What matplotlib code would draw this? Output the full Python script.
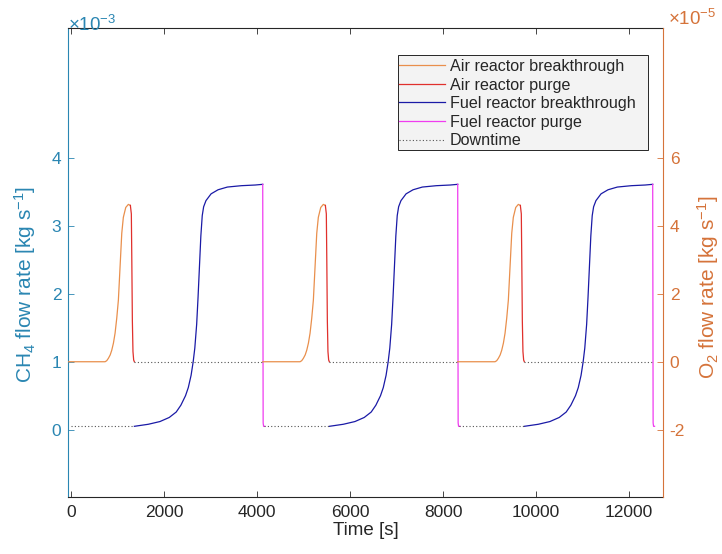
import matplotlib
matplotlib.use('Agg')
import matplotlib.pyplot as plt
from matplotlib.lines import Line2D
from matplotlib.patches import Rectangle

plt.rcParams['font.family'] = ['Liberation Sans', 'DejaVu Sans']
plt.rcParams['mathtext.fontset'] = 'custom'
plt.rcParams['mathtext.rm'] = 'Liberation Sans'
plt.rcParams['mathtext.it'] = 'Liberation Sans:italic'
plt.rcParams['mathtext.bf'] = 'Liberation Sans:bold'

# ---------------- data ----------------
# O2 flow rate, units of 1e-5 kg/s (right axis)
air_bt_t = [
    [-60, 731, 766, 802, 841, 875, 911, 946, 982, 1017, 1053, 1090, 1124, 1176, 1232, 1275],
    [4122, 4925, 4960, 4996, 5035, 5069, 5105, 5140, 5176, 5211, 5247, 5284, 5318, 5370, 5426, 5469],
    [8316, 9119, 9154, 9190, 9229, 9263, 9299, 9334, 9370, 9405, 9441, 9478, 9512, 9564, 9620, 9663],
]
air_bt_v = [0, 0, 0.03, 0.1, 0.2, 0.34, 0.55, 0.84, 1.28, 1.81, 2.78, 3.78, 4.25, 4.54, 4.63, 4.60]

air_pg_t = [
    [1275, 1296, 1306, 1318, 1331, 1346, 1361],
    [5469, 5490, 5500, 5512, 5525, 5540, 5555],
    [9663, 9684, 9694, 9706, 9719, 9734, 9749],
]
air_pg_v = [4.60, 4.35, 3.0, 1.2, 0.3, 0.05, 0.0]

# CH4 flow rate, units of 1e-3 kg/s (left axis)
fuel_bt_t = [
    [1361, 1661, 1911, 2111, 2261, 2361, 2461, 2521, 2581, 2626, 2661, 2701, 2731,
     2761, 2791, 2821, 2851, 2901, 3011, 3161, 3361, 3661, 3961, 4122],
    [5555, 5855, 6105, 6305, 6455, 6555, 6655, 6715, 6775, 6820, 6855, 6895, 6925,
     6955, 6985, 7015, 7045, 7095, 7205, 7355, 7555, 7855, 8155, 8316],
    [9749, 10049, 10299, 10499, 10649, 10749, 10849, 10909, 10969, 11014, 11049, 11089, 11119,
     11149, 11179, 11209, 11239, 11289, 11399, 11549, 11749, 12049, 12349, 12510],
]
fuel_bt_v = [0.05, 0.08, 0.12, 0.18, 0.26, 0.36, 0.5, 0.62, 0.8, 1.0, 1.2, 1.55, 1.95,
             2.4, 2.85, 3.15, 3.28, 3.37, 3.47, 3.53, 3.57, 3.59, 3.60, 3.61]

fuel_pg_t = [
    [4122, 4131, 4141, 4170],
    [8316, 8325, 8335, 8364],
    [12510, 12519, 12529, 12550],
]
fuel_pg_v = [3.61, 0.1, 0.05, 0.05]

# Downtime: CH4 idle level (left) and O2 idle level (right)
down_ch4_t = [[0, 1361], [4141, 5555], [8335, 9749]]
down_ch4_v = 0.05
down_o2_t = [[1361, 4122], [5555, 8316], [9749, 12510]]
down_o2_v = 0.0

x_ticks = [0, 2000, 4000, 6000, 8000, 10000, 12000]
left_ticks = [0, 1, 2, 3, 4]
right_ticks = [-2, 0, 2, 4, 6]

labels = ['Air reactor breakthrough', 'Air reactor purge',
          'Fuel reactor breakthrough', 'Fuel reactor purge', 'Downtime']

# ---------------- styles ----------------
c_orange = '#E98F4C'
c_red = '#E0302C'
c_blue = '#1A1AA6'
c_mag = '#F03CF0'
c_down = '#555555'
c_left = '#2A86B2'
c_right = '#D5733A'
c_dark = '#262626'
lw = 0.9
dot = (0, (1, 2))

W, H = 722, 554
fig = plt.figure(figsize=(W / 100, H / 100), dpi=100)


def px(x0, y0, x1, y1):
    return [x0 / W, 1 - y1 / H, (x1 - x0) / W, (y1 - y0) / H]


ax = fig.add_axes(px(68.3, 28, 662.7, 497))
ax2 = ax.twinx()

for t in fuel_bt_t:
    ax.plot(t, fuel_bt_v, color=c_blue, lw=lw)
for t in fuel_pg_t:
    ax.plot(t, fuel_pg_v, color=c_mag, lw=lw)
for t in down_ch4_t:
    ax.plot(t, [down_ch4_v] * len(t), color=c_down, lw=0.8, ls=dot)

for t in air_bt_t:
    ax2.plot(t, air_bt_v, color=c_orange, lw=lw)
for t in air_pg_t:
    ax2.plot(t, air_pg_v, color=c_red, lw=lw)
for t in down_o2_t:
    ax2.plot(t, [down_o2_v] * len(t), color=c_down, lw=0.8, ls=dot)

ax.set_xlim(-60, 12725)
ax.set_ylim(-0.99, 5.91)
ax2.set_ylim(-3.98, 9.82)

ax.set_xticks(x_ticks)
ax.set_xticklabels([str(v) for v in x_ticks])
ax.set_yticks(left_ticks)
ax.set_yticklabels([str(v) for v in left_ticks])
ax2.set_yticks(right_ticks)
ax2.set_yticklabels([str(v) for v in right_ticks])

ax.tick_params(axis='x', direction='in', length=4, width=0.6, colors=c_dark,
               labelsize=12.5, top=True, pad=6)
ax.tick_params(axis='y', direction='in', length=4, width=0.6, colors=c_left,
               labelsize=12.5, pad=5)
ax2.tick_params(axis='y', direction='in', length=4, width=0.6, colors=c_right,
                labelsize=12.5, pad=5)

for a in (ax, ax2):
    for s in a.spines.values():
        s.set_linewidth(0.8)
ax.spines['bottom'].set_color(c_dark)
ax.spines['top'].set_color(c_dark)
ax.spines['left'].set_color(c_left)
ax.spines['right'].set_visible(False)
ax2.spines['left'].set_visible(False)
ax2.spines['top'].set_visible(False)
ax2.spines['bottom'].set_visible(False)
ax2.spines['right'].set_color(c_right)

ax.set_xlabel('Time [s]', fontsize=13.5, color=c_dark, labelpad=1)

fig.text(25 / W, 1 - 284 / H, r'CH$_{\mathregular{4}}$ flow rate [kg s$^{\mathregular{-1}}$]',
         rotation=90, ha='center', va='center', fontsize=15, color=c_left)
fig.text(708 / W, 1 - 287 / H, r'O$_{\mathregular{2}}$ flow rate [kg s$^{\mathregular{-1}}$]',
         rotation=90, ha='center', va='center', fontsize=15, color=c_right)

fig.text(68 / W, 1 - 31 / H, r'$\times$10$^{\mathregular{-3}}$', ha='left', va='baseline',
         fontsize=13.5, color=c_left)
fig.text(668 / W, 1 - 25 / H, r'$\times$10$^{\mathregular{-5}}$', ha='left', va='baseline',
         fontsize=13.5, color=c_right)

# legend frame drawn at its pixel place, entries placed inside it
frame = Rectangle((398 / W, 1 - 150 / H), 250 / W, 95 / H, transform=fig.transFigure,
                  facecolor='#F3F3F3', edgecolor=c_dark, lw=0.7, zorder=4, clip_on=False)
ax2.add_artist(frame)

handles = [Line2D([], [], color=c_orange, lw=lw),
           Line2D([], [], color=c_red, lw=lw),
           Line2D([], [], color=c_blue, lw=lw),
           Line2D([], [], color=c_mag, lw=lw),
           Line2D([], [], color=c_down, lw=0.8, ls=dot)]
leg = ax2.legend(handles, labels, loc='upper left',
                 bbox_to_anchor=(399 / W, 1 - 59 / H), bbox_transform=fig.transFigure,
                 fontsize=11.6, frameon=False, handlelength=2.85,
                 handletextpad=0.3, labelspacing=0.22, borderpad=0.0,
                 borderaxespad=0)
leg.set_zorder(5)
for txt in leg.get_texts():
    txt.set_color(c_dark)

fig.savefig('out.png', dpi=100, facecolor='white')
